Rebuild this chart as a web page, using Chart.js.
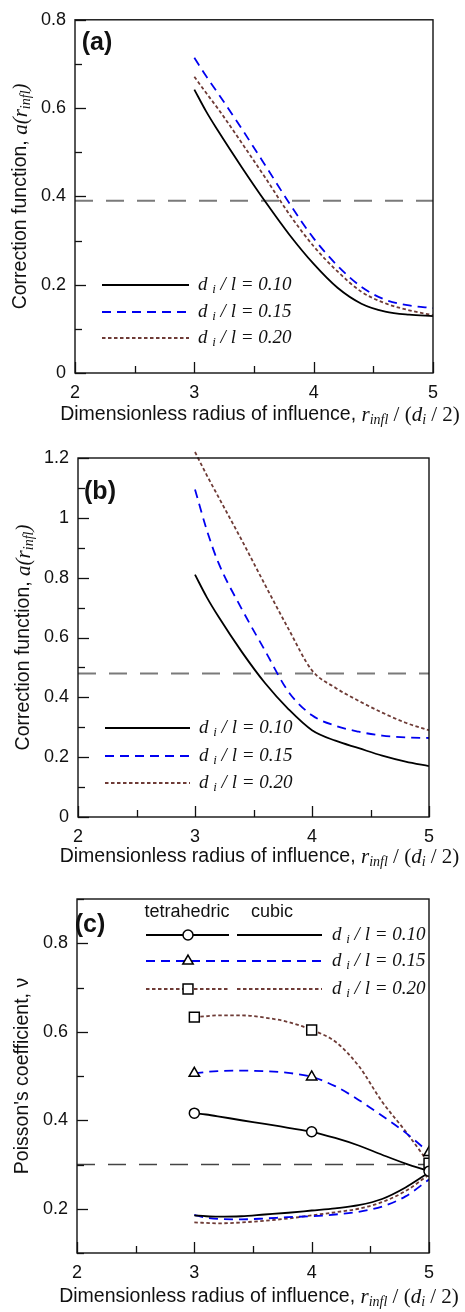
<!DOCTYPE html>
<html>
<head>
<meta charset="utf-8">
<script src="https://cdn.jsdelivr.net/npm/chart.js@4.4.1/dist/chart.umd.min.js"></script>
<style>
  html, body { margin: 0; padding: 0; background: #fff; }
  body { width: 465px; height: 1312px; position: relative; overflow: hidden; }
  canvas { position: absolute; left: 0; }
</style>
</head>
<body>
<canvas id="chartA" width="465" height="430" style="top:0px"></canvas>
<canvas id="chartB" width="465" height="440" style="top:430px"></canvas>
<canvas id="chartC" width="465" height="442" style="top:870px"></canvas>
<script>
"use strict";
// values
const rInfl = [3.0, 3.1, 3.2, 3.4, 3.6, 3.8, 4.0, 4.2, 4.4, 4.6, 4.8, 5.0];
const ratioLabels = ["0.10", "0.15", "0.20"];
const xTickValues = [2, 2.5, 3, 3.5, 4, 4.5, 5];
const xTickLabels = ["2", "", "3", "", "4", "", "5"];

// (a) correction function
const corrA010 = [0.642, 0.592, 0.548, 0.465, 0.386, 0.312, 0.247, 0.193, 0.157, 0.139, 0.132, 0.129];
const corrA015 = [0.714, 0.672, 0.633, 0.552, 0.468, 0.383, 0.305, 0.243, 0.195, 0.166, 0.153, 0.147];
const corrA020 = [0.671, 0.634, 0.598, 0.520, 0.440, 0.358, 0.287, 0.230, 0.184, 0.158, 0.142, 0.131];
const yTicksA = [0, 0.1, 0.2, 0.3, 0.4, 0.5, 0.6, 0.7, 0.8];
const yLabelsA = ["0", "", "0.2", "", "0.4", "", "0.6", "", "0.8"];
const refA = 0.39;

// (b) correction function
const corrB010 = [0.810, 0.735, 0.670, 0.552, 0.447, 0.360, 0.290, 0.255, 0.230, 0.205, 0.185, 0.170];
const corrB015 = [1.095, 0.960, 0.850, 0.695, 0.555, 0.418, 0.340, 0.305, 0.285, 0.272, 0.266, 0.264];
const corrB020 = [1.220, 1.143, 1.070, 0.925, 0.775, 0.628, 0.490, 0.432, 0.388, 0.349, 0.315, 0.290];
const yTicksB = [0, 0.1, 0.2, 0.3, 0.4, 0.5, 0.6, 0.7, 0.8, 0.9, 1, 1.1, 1.2];
const yLabelsB = ["0", "", "0.2", "", "0.4", "", "0.6", "", "0.8", "", "1", "", "1.2"];
const refB = 0.48;

// (c) Poisson's coefficient
const tetra010 = [0.416, 0.413, 0.409, 0.400, 0.392, 0.383, 0.374, 0.360, 0.343, 0.322, 0.302, 0.285];
const tetra015 = [0.506, 0.509, 0.511, 0.512, 0.511, 0.507, 0.498, 0.477, 0.446, 0.410, 0.372, 0.327];
const tetra020 = [0.633, 0.635, 0.637, 0.637, 0.632, 0.622, 0.604, 0.578, 0.523, 0.442, 0.375, 0.303];
const cubic010 = [0.185, 0.183, 0.182, 0.183, 0.187, 0.191, 0.196, 0.201, 0.208, 0.222, 0.248, 0.282];
const cubic015 = [0.186, 0.180, 0.177, 0.176, 0.178, 0.181, 0.183, 0.187, 0.193, 0.205, 0.228, 0.266];
const cubic020 = [0.169, 0.168, 0.167, 0.169, 0.173, 0.178, 0.185, 0.192, 0.200, 0.215, 0.240, 0.277];
const yTicksC = [0.1, 0.2, 0.3, 0.4, 0.5, 0.6, 0.7, 0.8, 0.9];
const yLabelsC = ["", "0.2", "", "0.4", "", "0.6", "", "0.8", ""];
const refC = 0.30;
const markerAt = [3, 4, 5];

const SANS = '"Liberation Sans", Arial, Helvetica, sans-serif';
const SERIF = '"Liberation Serif", "Times New Roman", serif';

const lineStyles = [
  { color: "#000000", dash: [] },
  { color: "#0000f0", dash: [9, 6] },
  { color: "#6e3b36", dash: [3.5, 2.5] },
];
const markerStyles = [
  { style: "circle", r: 5 },
  { style: "triangle", r: 6 },
  { style: "rect", r: 7 },
];

function toXY(ys) {
  return rInfl.map((x, i) => ({ x: x, y: ys[i] }));
}

function curve(ys, k, extra) {
  return Object.assign({
    data: toXY(ys),
    borderColor: lineStyles[k].color,
    borderDash: lineStyles[k].dash,
    borderWidth: 1.8,
    pointRadius: 0,
    fill: false,
    cubicInterpolationMode: "monotone",
  }, extra || {});
}

function refLine(v, color, width) {
  return {
    data: [{ x: 2, y: v }, { x: 5, y: v }],
    borderColor: color,
    borderDash: [18, 13],
    borderWidth: width,
    pointRadius: 0,
    fill: false,
  };
}

// text made of several runs (sans, italic serif, subscripts)
function runsWidth(ctx, runs) {
  let w = 0;
  runs.forEach((r) => { ctx.font = r.f; w += ctx.measureText(r.t).width; });
  return w;
}
function drawRuns(ctx, runs, x, y) {
  ctx.textBaseline = "middle";
  ctx.textAlign = "left";
  runs.forEach((r) => {
    ctx.font = r.f;
    ctx.fillText(r.t, x, y + (r.dy || 0));
    x += ctx.measureText(r.t).width;
  });
}

const F_TITLE = "19.5px " + SANS;
const F_IT = "italic 21px " + SERIF;
const F_IT_SUB = "italic 14px " + SERIF;
const F_UP = "21px " + SERIF;

const corrTitle = [
  { t: "Correction function, ", f: F_TITLE },
  { t: "a(r", f: F_IT },
  { t: "infl", f: F_IT_SUB, dy: 5 },
  { t: ")", f: F_IT },
];
const poissonTitle = [{ t: "Poisson's coefficient, ν", f: F_TITLE }];
const radiusTitle = [
  { t: "Dimensionless radius of influence, ", f: F_TITLE },
  { t: "r", f: F_IT },
  { t: "infl", f: F_IT_SUB, dy: 5 },
  { t: " / (", f: F_UP },
  { t: "d", f: F_IT },
  { t: "i", f: F_IT_SUB, dy: 5 },
  { t: " / 2)", f: F_UP },
];

function ratioText(lbl) {
  return [
    { t: "d ", f: "italic 19px " + SERIF },
    { t: "i", f: "italic 13px " + SERIF, dy: 5 },
    { t: " / l = " + lbl, f: "italic 19px " + SERIF },
  ];
}

function strokeSeg(ctx, ds, x0, x1, y) {
  ctx.save();
  ctx.strokeStyle = ds.borderColor;
  ctx.lineWidth = ds.borderWidth;
  ctx.setLineDash(ds.borderDash);
  ctx.beginPath();
  ctx.moveTo(x0, y);
  ctx.lineTo(x1, y);
  ctx.stroke();
  ctx.restore();
}

// frame, inward ticks, titles, panel tag and legend
const panelDeco = {
  id: "panelDeco",
  afterDraw(chart, args, opts) {
    const ctx = chart.ctx;
    const a = chart.chartArea;
    const xs = chart.scales.x, ys = chart.scales.y;
    const yTicks = opts.yTicks;
    ctx.save();
    ctx.setLineDash([]);
    ctx.strokeStyle = "#111";
    ctx.lineWidth = 1.4;
    ctx.strokeRect(a.left, a.top, a.right - a.left, a.bottom - a.top);

    // inward tick marks
    ctx.lineWidth = 1.3;
    ctx.strokeStyle = "#111";
    for (let i = 0; i < yTicks.length; i++) {
      const p = Math.round(ys.getPixelForValue(yTicks[i])) + 0.5;
      const len = opts.yLabels[i] === "" ? 7 : 11;
      ctx.beginPath();
      ctx.moveTo(a.left, p);
      ctx.lineTo(a.left + len, p);
      ctx.stroke();
    }
    for (let i = 0; i < xTickValues.length; i++) {
      const p = Math.round(xs.getPixelForValue(xTickValues[i])) + 0.5;
      const len = xTickLabels[i] === "" ? 7 : 11;
      ctx.beginPath();
      ctx.moveTo(p, a.bottom);
      ctx.lineTo(p, a.bottom - len);
      ctx.stroke();
    }

    ctx.fillStyle = "#111";
    // panel tag
    ctx.font = "bold 25px " + SANS;
    ctx.textAlign = "center";
    ctx.textBaseline = "middle";
    ctx.fillText(opts.tag, opts.tagX, opts.tagY);

    // x title
    const xw = runsWidth(ctx, radiusTitle);
    drawRuns(ctx, radiusTitle, (a.left + a.right) / 2 + 6 - xw / 2, opts.xTitleY);

    // y title
    const yw = runsWidth(ctx, opts.yTitle);
    ctx.save();
    ctx.translate(opts.yTitleX, (a.top + a.bottom) / 2);
    ctx.rotate(-Math.PI / 2);
    drawRuns(ctx, opts.yTitle, -yw / 2, 0);
    ctx.restore();

    // legend
    const lg = opts.legend;
    const dsets = chart.data.datasets;
    if (lg.header) {
      ctx.font = "18px " + SANS;
      ctx.textAlign = "center";
      ctx.textBaseline = "middle";
      lg.header.forEach((h) => ctx.fillText(h.t, h.x, lg.headerY));
    }
    lg.rows.forEach((y, k) => {
      lg.segs.forEach((s) => {
        const ds = dsets[s.ds[k]];
        strokeSeg(ctx, ds, s.x0, s.x1, y);
        if (s.marker) {
          const m = markerStyles[k];
          ctx.setLineDash([]);
          ctx.strokeStyle = "#000";
          ctx.fillStyle = "#fff";
          ctx.lineWidth = 1.5;
          Chart.helpers.drawPoint(ctx, { pointStyle: m.style, radius: m.r, borderWidth: 1.5, rotation: 0 }, s.marker, y);
        }
      });
      ctx.fillStyle = "#111";
      drawRuns(ctx, ratioText(ratioLabels[k]), lg.labelX, y);
    });
    ctx.restore();
  },
};

function makePanel(id, cfg) {
  const canvas = document.getElementById(id);
  const W = canvas.width, H = canvas.height;
  const box = cfg.box;
  const yTicks = cfg.deco.yTicks, yLabels = cfg.deco.yLabels;
  return new Chart(canvas, {
    type: "line",
    data: { datasets: cfg.datasets },
    options: {
      responsive: false,
      animation: false,
      events: [],
      layout: { padding: { top: box.top, right: W - box.right, left: 0, bottom: 0 } },
      scales: {
        x: {
          type: "linear",
          min: 2,
          max: 5,
          afterFit: (s) => { s.height = H - box.bottom; },
          afterBuildTicks: (s) => { s.ticks = xTickValues.map((v) => ({ value: v })); },
          grid: { display: false, drawTicks: false },
          border: { display: false },
          ticks: {
            autoSkip: false,
            maxRotation: 0,
            padding: 9,
            color: "#111",
            font: { family: SANS, size: 18 },
            callback: (v) => xTickLabels[xTickValues.indexOf(v)] || "",
          },
        },
        y: {
          type: "linear",
          min: cfg.yMin,
          max: cfg.yMax,
          afterFit: (s) => { s.width = box.left; },
          afterBuildTicks: (s) => { s.ticks = yTicks.map((v) => ({ value: v })); },
          grid: { display: false, drawTicks: false },
          border: { display: false },
          ticks: {
            autoSkip: false,
            padding: 9,
            color: "#111",
            font: { family: SANS, size: 18 },
            callback: (v, i) => yLabels[i] || "",
          },
        },
      },
      plugins: {
        legend: { display: false },
        tooltip: { enabled: false },
        panelDeco: cfg.deco,
      },
    },
    plugins: [panelDeco],
  });
}

// panel (a)
makePanel("chartA", {
  box: { left: 75, right: 433, top: 13, bottom: 373 },
  yMin: 0,
  yMax: 0.8,
  datasets: [
    curve(corrA010, 0),
    curve(corrA015, 1),
    curve(corrA020, 2),
    refLine(refA, "#7a7a7a", 2),
  ],
  deco: {
    tag: "(a)", tagX: 97, tagY: 43,
    yTicks: yTicksA, yLabels: yLabelsA,
    xTitleY: 415, yTitleX: 21, yTitle: corrTitle,
    legend: {
      rows: [285, 312, 338],
      segs: [{ x0: 102, x1: 189, ds: [0, 1, 2] }],
      labelX: 198,
    },
  },
});

// panel (b)
makePanel("chartB", {
  box: { left: 78, right: 429, top: 28, bottom: 387 },
  yMin: 0,
  yMax: 1.2,
  datasets: [
    curve(corrB010, 0),
    curve(corrB015, 1),
    curve(corrB020, 2, { clip: false }),
    refLine(refB, "#7a7a7a", 2),
  ],
  deco: {
    tag: "(b)", tagX: 100, tagY: 62,
    yTicks: yTicksB, yLabels: yLabelsB,
    xTitleY: 427, yTitleX: 24, yTitle: corrTitle,
    legend: {
      rows: [298, 326, 353],
      segs: [{ x0: 105, x1: 190, ds: [0, 1, 2] }],
      labelX: 199,
    },
  },
});

// panel (c)
function tetra(ys, k) {
  const m = markerStyles[k];
  return curve(ys, k, {
    pointStyle: m.style,
    pointRadius: (c) => (markerAt.includes(rInfl[c.dataIndex]) ? m.r : 0),
    pointBorderColor: "#000",
    pointBackgroundColor: "#fff",
    pointBorderWidth: 1.5,
  });
}
makePanel("chartC", {
  box: { left: 77, right: 429, top: 29, bottom: 383 },
  yMin: 0.1,
  yMax: 0.9,
  datasets: [
    tetra(tetra010, 0),
    tetra(tetra015, 1),
    tetra(tetra020, 2),
    curve(cubic010, 0),
    curve(cubic015, 1),
    curve(cubic020, 2),
    refLine(refC, "#444", 1.4),
  ],
  deco: {
    tag: "(c)", tagX: 90, tagY: 55,
    yTicks: yTicksC, yLabels: yLabelsC,
    xTitleY: 427, yTitleX: 23, yTitle: poissonTitle,
    legend: {
      header: [{ t: "tetrahedric", x: 187 }, { t: "cubic", x: 272 }],
      headerY: 42,
      rows: [65, 91, 119],
      segs: [
        { x0: 146, x1: 229, ds: [0, 1, 2], marker: 188 },
        { x0: 237, x1: 322, ds: [3, 4, 5] },
      ],
      labelX: 332,
    },
  },
});
</script>
</body>
</html>
